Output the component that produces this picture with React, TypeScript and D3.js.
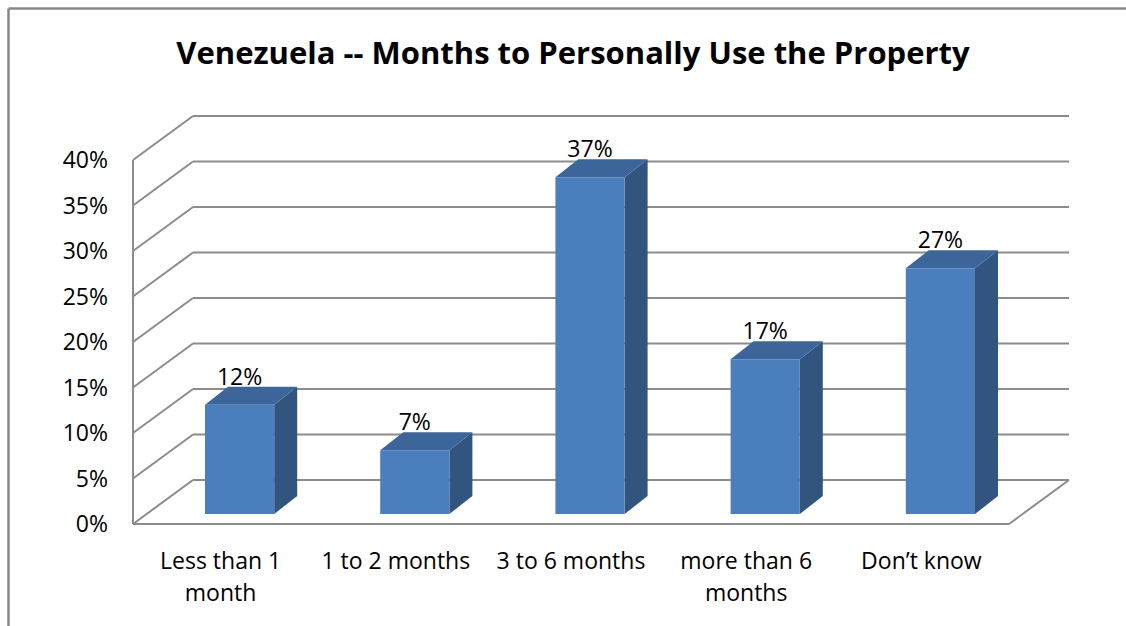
import React from "react";
import * as d3 from "d3";

const categories = ["Less than 1 month", "1 to 2 months", "3 to 6 months", "more than 6 months", "Don’t know"];
const values = [0.12, 0.07, 0.37, 0.17, 0.27];
const valueLabels = ["12%", "7%", "37%", "17%", "27%"];
const yTicks = [0, 0.05, 0.1, 0.15, 0.2, 0.25, 0.3, 0.35, 0.4];
const title = "Venezuela -- Months to Personally Use the Property";

const W = 1126;
const H = 626;
const FONT = "'Open Sans', 'Liberation Sans', sans-serif";
const GRID = "#8c8c8c";
const DX = 60; // depth x offset (front -> back)
const DY = -44; // depth y offset

function wrap(text: string, maxW: number, font: string): string[] {
  const c = document.createElement("canvas").getContext("2d")!;
  c.font = font;
  const words = text.split(" ");
  const lines: string[] = [];
  let cur = "";
  for (const w of words) {
    const t = cur ? cur + " " + w : w;
    if (cur && c.measureText(t).width > maxW) {
      lines.push(cur);
      cur = w;
    } else cur = t;
  }
  if (cur) lines.push(cur);
  return lines;
}

export default function App() {
  const x = d3.scaleBand<string>().domain(categories).range([133, 1009]).padding(0);
  const y = d3.scaleLinear().domain([0, 0.4]).range([524, 160]);
  const bw = x.bandwidth();
  const barW = bw * 0.395;
  const barShiftX = 19; // bar front face offset into depth
  const barShiftY = -10;
  const sideDX = 23;
  const sideDY = -18;

  const fmt = d3.format(".0%");

  return (
    <svg width={W} height={H} style={{ position: "fixed", left: 0, top: 0, background: "#fff" }}>
      <rect x={0} y={0} width={W} height={H} fill="#fff" />
      {/* outer border (top and left) */}
      <line x1={8.5} y1={8.5} x2={W} y2={8.5} stroke="#888" strokeWidth={2.5} />
      <line x1={8.5} y1={8.5} x2={8.5} y2={H} stroke="#888" strokeWidth={2.5} />

      <text x={573} y={64} textAnchor="middle" fontFamily={FONT} fontWeight="bold" fontSize={31} fill="#000">
        {title}
      </text>

      {/* walls */}
      {yTicks.map((t) => (
        <g key={t}>
          <line x1={133} y1={y(t)} x2={133 + DX} y2={y(t) + DY} stroke={GRID} strokeWidth={2} />
          <line x1={133 + DX} y1={y(t) + DY} x2={1009 + DX} y2={y(t) + DY} stroke={GRID} strokeWidth={2} />
        </g>
      ))}
      <line x1={133} y1={y(0.4)} x2={133} y2={y(0)} stroke={GRID} strokeWidth={2} />
      {/* floor */}
      <line x1={133} y1={y(0)} x2={1009} y2={y(0)} stroke={GRID} strokeWidth={2} />
      <line x1={1009} y1={y(0)} x2={1009 + DX} y2={y(0) + DY} stroke={GRID} strokeWidth={2} />

      {/* y tick labels */}
      {yTicks.map((t) => (
        <text key={t} x={108} y={y(t)} dy="0.36em" textAnchor="end" fontFamily={FONT} fontSize={23} fill="#000">
          {fmt(t)}
        </text>
      ))}

      {/* bars */}
      {categories.map((c, i) => {
        const x0 = (x(c) as number) + bw / 2 - barW / 2 + barShiftX;
        const x1 = x0 + barW;
        const yb = y(0) + barShiftY;
        const yt = y(values[i]) + barShiftY;
        const front = `M${x0},${yt}L${x1},${yt}L${x1},${yb}L${x0},${yb}Z`;
        const side = `M${x1},${yt}L${x1 + sideDX},${yt + sideDY}L${x1 + sideDX},${yb + sideDY}L${x1},${yb}Z`;
        const top = `M${x0},${yt}L${x0 + sideDX},${yt + sideDY}L${x1 + sideDX},${yt + sideDY}L${x1},${yt}Z`;
        return (
          <g key={c}>
            <path d={side} fill="#32557f" />
            <path d={top} fill="#3c659a" />
            <path d={front} fill="#4b7ebd" />
            <text
              x={(x0 + x1) / 2}
              y={yt + sideDY - 2}
              textAnchor="middle"
              fontFamily={FONT}
              fontSize={23}
              fill="#000"
            >
              {valueLabels[i]}
            </text>
          </g>
        );
      })}

      {/* x labels */}
      {categories.map((c) => {
        const lines = wrap(c, 172, `23px ${FONT}`);
        return (
          <text key={c} x={(x(c) as number) + bw / 2} y={569} textAnchor="middle" fontFamily={FONT} fontSize={23} fill="#000">
            {lines.map((l, j) => (
              <tspan key={j} x={(x(c) as number) + bw / 2} dy={j === 0 ? 0 : 32}>
                {l}
              </tspan>
            ))}
          </text>
        );
      })}
    </svg>
  );
}
